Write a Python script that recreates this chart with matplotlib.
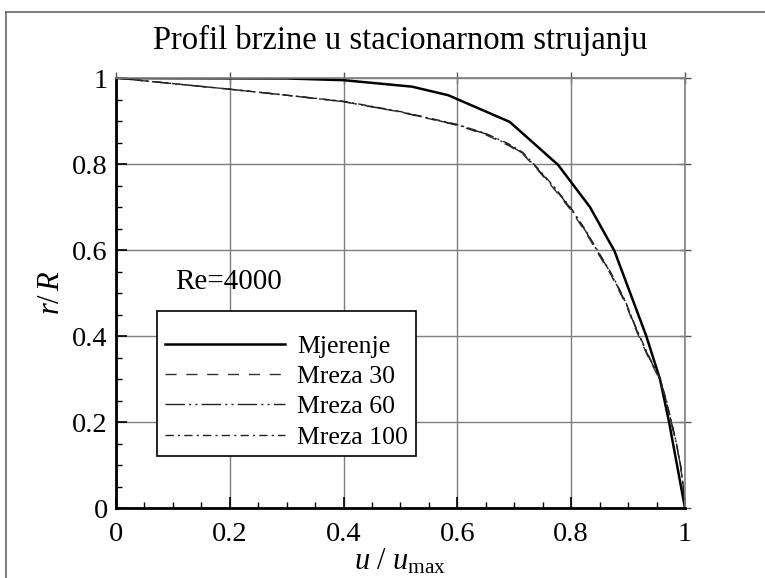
import matplotlib

matplotlib.use("Agg")
import matplotlib.pyplot as plt  # noqa: E402
from matplotlib.lines import Line2D  # noqa: E402
from matplotlib.ticker import MultipleLocator  # noqa: E402

plt.rcParams["font.family"] = ["Liberation Serif", "DejaVu Serif"]
plt.rcParams["mathtext.fontset"] = "custom"
plt.rcParams["mathtext.rm"] = "Liberation Serif"
plt.rcParams["mathtext.it"] = "Liberation Serif:italic"
plt.rcParams["lines.scale_dashes"] = False

# measured profile (u/umax, r/R)
MEAS_U = [0.0, 0.30, 0.40, 0.52, 0.584, 0.692, 0.777, 0.833, 0.876, 0.932, 0.956, 0.972, 0.986, 1.0]
MEAS_R = [1.0, 0.999, 0.995, 0.980, 0.960, 0.898, 0.798, 0.700, 0.598, 0.400, 0.300, 0.200, 0.100, 0.0]

# simulated profiles, three grids
SIM_U = [0.0, 0.1, 0.2, 0.3, 0.4, 0.5, 0.6, 0.65, 0.69, 0.715, 0.74, 0.77, 0.80,
         0.825, 0.845, 0.87, 0.895, 0.915, 0.935, 0.956, 0.967, 0.976, 0.985, 0.992, 0.997, 1.0]
SIM30_R = [1.0, 0.987, 0.974, 0.960, 0.945, 0.921, 0.890, 0.868, 0.843, 0.823, 0.788, 0.742, 0.692,
           0.642, 0.597, 0.542, 0.477, 0.411, 0.352, 0.298, 0.248, 0.198, 0.148, 0.099, 0.049, 0.0]
SIM60_R = [1.0, 0.987, 0.974, 0.960, 0.945, 0.921, 0.891, 0.870, 0.845, 0.825, 0.790, 0.745, 0.695,
           0.645, 0.600, 0.545, 0.480, 0.414, 0.355, 0.300, 0.250, 0.200, 0.150, 0.100, 0.050, 0.0]
SIM100_R = [1.0, 0.987, 0.974, 0.960, 0.946, 0.922, 0.892, 0.871, 0.847, 0.827, 0.792, 0.747, 0.697,
            0.647, 0.602, 0.547, 0.482, 0.416, 0.357, 0.302, 0.252, 0.202, 0.151, 0.101, 0.050, 0.0]

LABELS = ["Mjerenje", "Mreza 30", "Mreza 60", "Mreza 100"]
TICKS = [0.0, 0.2, 0.4, 0.6, 0.8, 1.0]
TICK_LABELS = ["0", "0.2", "0.4", "0.6", "0.8", "1"]

fig = plt.figure(figsize=(7.65, 5.78), dpi=100)
ax = fig.add_axes([0.1516, 0.121, 0.7438, 0.744])

ax.plot(MEAS_U, MEAS_R, color="black", lw=1.8, label=LABELS[0])
ax.plot(SIM_U, SIM30_R, color="#333333", lw=1.0, dashes=(8, 7), label=LABELS[1])
ax.plot(SIM_U, SIM60_R, color="#222222", lw=1.0, dashes=(14, 3, 1.5, 3, 1.5, 3), label=LABELS[2])
ax.plot(SIM_U, SIM100_R, color="#222222", lw=1.0, dashes=(6, 3, 1.5, 3), label=LABELS[3])

ax.set_xlim(0, 1)
ax.set_ylim(0, 1)
ax.set_xticks(TICKS, TICK_LABELS)
ax.set_yticks(TICKS, TICK_LABELS)
ax.xaxis.set_minor_locator(MultipleLocator(0.05))
ax.yaxis.set_minor_locator(MultipleLocator(0.05))
ax.grid(True, which="major", color="#7f7f7f", lw=1.0)

ax.tick_params(which="both", direction="in", labelsize=20.5, top=False, right=False)
ax.tick_params(which="major", length=8, width=1.2)
ax.tick_params(which="minor", length=4, width=1.0)
ax.tick_params(axis="x", pad=10)
ax.tick_params(axis="y", pad=6)

for side in ("left", "bottom"):
    ax.spines[side].set_linewidth(2.0)
    ax.spines[side].set_color("black")
for side in ("top", "right"):
    ax.spines[side].set_linewidth(1.2)
    ax.spines[side].set_color("#7f7f7f")

# major ticks crossing the top and right frame
top = ax.secondary_xaxis("top")
top.set_xticks(TICKS)
top.tick_params(direction="inout", length=9, width=1.0, color="#555555", labeltop=False)
top.spines["top"].set_visible(False)
right = ax.secondary_yaxis("right")
right.set_yticks(TICKS)
right.tick_params(direction="inout", length=9, width=1.0, color="#555555", labelright=False)
right.spines["right"].set_visible(False)

ax.set_title("Profil brzine u stacionarnom strujanju", fontsize=23.5, pad=21)
ax.set_xlabel(r"$u\ /\ u_{\rm max}$", fontsize=22, labelpad=0)
ax.set_ylabel(r"$r/\,R$", fontsize=22, labelpad=4)

ax.text(0.104, 0.526, "Re=4000", transform=ax.transAxes, fontsize=21, va="center", ha="left")

leg = ax.legend(loc="upper left", bbox_to_anchor=(0.072, 0.458), borderaxespad=0,
                fontsize=18.5, handlelength=4.7, handletextpad=0.45, labelspacing=0.28,
                borderpad=0.3, fancybox=False, framealpha=1, edgecolor="black",
                title=" ", title_fontsize=7)
leg.get_frame().set_linewidth(1.2)

# thin outer frame lines (top and left)
fig.add_artist(Line2D([6 / 765, 1.0], [1 - 12 / 578, 1 - 12 / 578], transform=fig.transFigure,
                      color="#666666", lw=1.2))
fig.add_artist(Line2D([6 / 765, 6 / 765], [0.0, 1 - 12 / 578], transform=fig.transFigure,
                      color="#666666", lw=1.2))

fig.savefig("out.png", dpi=100, facecolor="white")
